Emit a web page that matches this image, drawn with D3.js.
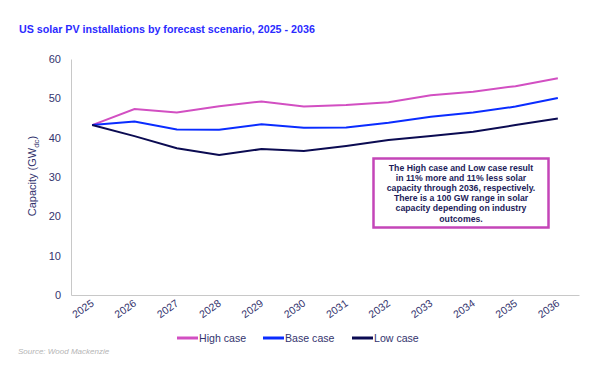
<!DOCTYPE html>
<html>
<head>
<meta charset="utf-8">
<script src="https://cdn.jsdelivr.net/npm/d3@7"></script>
<style>
  body { margin: 0; background: #fff; }
  svg { font-family: "Liberation Sans", Arial, sans-serif; }
</style>
</head>
<body>
<div id="chart"></div>
<script>
// Data (GWdc)
const years = ['2025', '2026', '2027', '2028', '2029', '2030', '2031', '2032', '2033', '2034', '2035', '2036'];
const highCase = [43.2, 47.3, 46.4, 48.0, 49.2, 47.9, 48.3, 49.0, 50.8, 51.7, 53.1, 55.1];
const baseCase = [43.2, 44.1, 42.1, 42.0, 43.4, 42.5, 42.6, 43.8, 45.3, 46.4, 47.9, 50.1];
const lowCase = [43.2, 40.4, 37.3, 35.6, 37.1, 36.6, 37.9, 39.4, 40.4, 41.5, 43.2, 44.9];
const yTicks = [0, 10, 20, 30, 40, 50, 60];

const series = [
    {name: 'High case', values: highCase, color: '#d24fc2'},
    {name: 'Base case', values: baseCase, color: '#0a2cff'},
    {name: 'Low case', values: lowCase, color: '#0b0b52'}
];

const width = 600, height = 366;
const margin = {top: 59, right: 21, bottom: 71, left: 71};
const innerW = width - margin.left - margin.right;
const innerH = height - margin.top - margin.bottom;
const textColor = '#34346e';

const svg = d3.select("#chart")
    .append("svg")
    .attr("width", width)
    .attr("height", height);

// Title
svg.append("text")
    .attr("x", 19)
    .attr("y", 33)
    .attr("font-size", 10.7)
    .attr("font-weight", "bold")
    .attr("fill", "#2b2bff")
    .text("US solar PV installations by forecast scenario, 2025 - 2036");

const g = svg.append("g")
    .attr("transform", `translate(${margin.left},${margin.top})`);

// Scales
const x = d3.scalePoint()
    .domain(years)
    .range([0, innerW])
    .padding(0.5);

const y = d3.scaleLinear()
    .domain([0, 60])
    .range([innerH, 0]);

// Axes
const yAxis = g.append("g")
    .call(d3.axisLeft(y).tickValues(yTicks).tickSize(0).tickPadding(10));
yAxis.select(".domain").attr("stroke", "#c8c8c8");
yAxis.selectAll("text")
    .attr("font-size", 11)
    .attr("fill", textColor)
    .attr("font-family", "Liberation Sans, Arial, sans-serif");

const xAxis = g.append("g")
    .attr("transform", `translate(0,${innerH})`)
    .call(d3.axisBottom(x).tickSize(0).tickPadding(0));
xAxis.select(".domain").attr("stroke", "#c8c8c8");
xAxis.selectAll("text")
    .attr("font-size", 10.5)
    .attr("fill", textColor)
    .attr("font-family", "Liberation Sans, Arial, sans-serif")
    .attr("text-anchor", "end")
    .attr("dy", 0)
    .attr("transform", "translate(2,10) rotate(-35)");

// Y axis label
const yLabel = svg.append("text")
    .attr("transform", "translate(36,176) rotate(-90)")
    .attr("text-anchor", "middle")
    .attr("font-size", 11)
    .attr("fill", textColor);
yLabel.append("tspan").text("Capacity (GW");
yLabel.append("tspan").attr("font-size", 8).attr("dy", 3).text("dc");
yLabel.append("tspan").attr("dy", -3).text(")");

// Lines
const line = d3.line()
    .x((d, i) => x(years[i]))
    .y(d => y(d));

series.forEach(s => {
    g.append("path")
        .datum(s.values)
        .attr("fill", "none")
        .attr("stroke", s.color)
        .attr("stroke-width", 2)
        .attr("d", line);
});

// Annotation box
const note = [
    "The High case and Low case result",
    "in 11% more and 11% less solar",
    "capacity through 2036, respectively.",
    "There is a 100 GW range in solar",
    "capacity depending on industry",
    "outcomes."
];
svg.append("rect")
    .attr("x", 373.5)
    .attr("y", 158.5)
    .attr("width", 175)
    .attr("height", 69)
    .attr("fill", "#fff")
    .attr("stroke", "#c445b8")
    .attr("stroke-width", 2.5);
svg.append("g")
    .selectAll("text")
    .data(note)
    .enter().append("text")
    .attr("x", 461)
    .attr("y", (d, i) => 171 + i * 10.1)
    .attr("text-anchor", "middle")
    .attr("font-size", 8.7)
    .attr("font-weight", "bold")
    .attr("fill", "#1c1c5a")
    .text(d => d);

// Legend
const legendX = [177, 263, 352];
const legend = svg.append("g")
    .selectAll("g")
    .data(series)
    .enter().append("g")
    .attr("transform", (d, i) => `translate(${legendX[i]},338)`);

legend.append("line")
    .attr("x1", 0)
    .attr("x2", 21)
    .attr("stroke", d => d.color)
    .attr("stroke-width", 3);

legend.append("text")
    .attr("x", 22)
    .attr("dy", "0.35em")
    .attr("font-size", 10.6)
    .attr("fill", textColor)
    .text(d => d.name);

// Source
svg.append("text")
    .attr("x", 18)
    .attr("y", 354)
    .attr("font-size", 8)
    .attr("font-style", "italic")
    .attr("fill", "#b5b5b5")
    .text("Source: Wood Mackenzie");
</script>
</body>
</html>
